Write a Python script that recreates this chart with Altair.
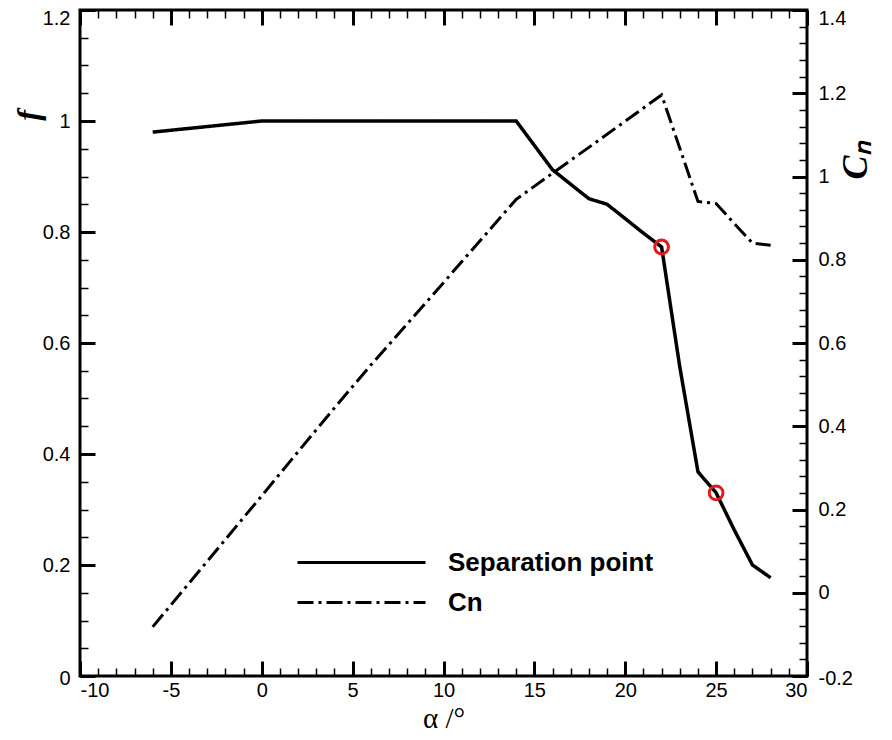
import altair as alt
import pandas as pd

# ---- data ----
alpha_f = [-6, 0, 14, 16, 18, 19, 20, 21, 22, 23, 24, 25, 26, 27, 28]
f_vals = [0.98, 1.0, 1.0, 0.912, 0.86, 0.85, 0.824, 0.798, 0.773, 0.557, 0.368, 0.33, 0.263, 0.2, 0.177]

alpha_cn = [-6, -4, -2, 0, 2, 4, 6, 8, 10, 12, 14, 16, 18, 20, 22, 24, 25, 26, 27, 28]
cn_vals = [-0.082, 0.023, 0.128, 0.233, 0.339, 0.444, 0.547, 0.646, 0.745, 0.845, 0.945,
           1.008, 1.07, 1.133, 1.196, 0.94, 0.935, 0.887, 0.84, 0.835]

mark_alpha = [22, 25]
mark_f = [0.773, 0.33]

series_names = ["Separation point", "Cn"]

x_major = [-10, -5, 0, 5, 10, 15, 20, 25, 30]
x_minor = list(range(-10, 31))
f_major = [0, 0.2, 0.4, 0.6, 0.8, 1, 1.2]
f_minor = [round(i * 0.05, 2) for i in range(25)]
cn_major = [-0.2, 0, 0.2, 0.4, 0.6, 0.8, 1, 1.2, 1.4]
cn_minor = [round(-0.2 + i * 0.04, 2) for i in range(41)]

W, H = 727, 666
FONT = "Liberation Sans"
SERIF = "Liberation Serif"
MAJ, MIN = 15, 8
MAJW, MINW = 3, 1.5

df_f = pd.DataFrame({"alpha": alpha_f, "val": f_vals, "series": series_names[0]})
df_cn = pd.DataFrame({"alpha": alpha_cn, "val": cn_vals, "series": series_names[1]})
df_m = pd.DataFrame({"alpha": mark_alpha, "val": mark_f})

xscale = alt.Scale(domain=[-10, 30], nice=False, zero=False)
fscale = alt.Scale(domain=[0, 1.2], nice=False, zero=False)
cnscale = alt.Scale(domain=[-0.2, 1.4], nice=False, zero=False)
dash_scale = alt.Scale(domain=series_names, range=[[1, 0], [16, 5, 3, 5]])

lab = "'' + datum.value"


def tick_axis(orient, offset, values, size, width):
    # inward-pointing ticks: axis moved across the plot with a negative offset
    return alt.Axis(orient=orient, offset=alt.ExprRef(str(offset)), values=values,
                    labels=False, domain=False, title=None, ticks=True, tickSize=size,
                    tickWidth=width, tickColor="black")


def top_baseline(top_value):
    return {"condition": {"test": f"datum.value == {top_value}", "value": "top"},
            "value": "middle"}


x_label_axis = alt.Axis(orient="bottom", values=x_major, ticks=False, domain=False,
                        labelExpr=lab, labelFont=FONT, labelFontSize=20, labelPadding=4,
                        title="α /°", titleFont=SERIF, titleFontSize=29,
                        titleFontWeight="normal", titleBaseline="alphabetic",
                        titleAlign="center", titleY=51, titleX=W / 2)
x_in_bottom_major = tick_axis("top", -H, x_major, MAJ, MAJW)
x_in_bottom_minor = tick_axis("top", -H, x_minor, MIN, MINW)
x_in_top_major = tick_axis("bottom", -H, x_major, MAJ, MAJW)
x_in_top_minor = tick_axis("bottom", -H, x_minor, MIN, MINW)

y_f_label = alt.Axis(orient="left", values=f_major, ticks=False, domain=False, labelExpr=lab,
                     labelFont=FONT, labelFontSize=20, labelPadding=10,
                     labelFlush=True, labelFlushOffset=2, labelBaseline=top_baseline(1.2),
                     title="f", titleFont=SERIF, titleFontStyle="italic", titleFontWeight="bold",
                     titleFontSize=32, titleAngle=270, titleX=-52, titleY=105,
                     titleAlign="center", titleBaseline="middle")
y_f_in_major = tick_axis("right", -W, f_major, MAJ, MAJW)
y_f_in_minor = tick_axis("right", -W, f_minor, MIN, MINW)

y_cn_label = alt.Axis(orient="right", values=cn_major, ticks=False, domain=False, labelExpr=lab,
                      labelFont=FONT, labelFontSize=20, labelPadding=11,
                      labelFlush=True, labelFlushOffset=2, labelBaseline=top_baseline(1.4),
                      title="Cₙ", titleFont=SERIF, titleFontStyle="italic", titleFontWeight="bold",
                      titleFontSize=36, titleAngle=270, titleX=48, titleY=150,
                      titleAlign="center", titleBaseline="middle")
y_cn_in_major = tick_axis("left", -W, cn_major, MAJ, MAJW)
y_cn_in_minor = tick_axis("left", -W, cn_minor, MIN, MINW)

# legend symbol: a long horizontal stroke drawn from a custom path
legend = alt.Legend(orient="none", legendX=264, legendY=535, title=None,
                    symbolType="M-4,0H4", symbolSize=1024, symbolStrokeWidth=3,
                    symbolStrokeColor="black", labelFont=FONT, labelFontSize=26,
                    labelFontWeight="bold", labelColor="black", labelOffset=69,
                    labelLimit=500, padding=0, rowPadding=9)

X = lambda ax: alt.X("alpha:Q", scale=xscale, axis=ax)

l_f = alt.Chart(df_f).mark_line(color="black", strokeWidth=3.5).encode(
    x=X(x_label_axis),
    y=alt.Y("val:Q", scale=fscale, axis=y_f_label),
    strokeDash=alt.StrokeDash("series:N", scale=dash_scale, legend=legend),
)
l_cn = alt.Chart(df_cn).mark_line(color="black", strokeWidth=3).encode(
    x=X(x_in_bottom_major),
    y=alt.Y("val:Q", scale=cnscale, axis=y_cn_label),
    strokeDash=alt.StrokeDash("series:N", scale=dash_scale, legend=legend),
)
l_m = alt.Chart(df_m).mark_point(shape="circle", filled=False, color="#e01b1b",
                                 strokeWidth=3, size=190, opacity=1).encode(
    x=X(x_in_bottom_minor),
    y=alt.Y("val:Q", scale=fscale, axis=y_f_in_major),
)
l_g1 = alt.Chart(df_f).mark_line(strokeOpacity=0).encode(
    x=X(x_in_top_major),
    y=alt.Y("val:Q", scale=fscale, axis=y_f_in_minor),
)
l_g2 = alt.Chart(df_cn).mark_line(strokeOpacity=0).encode(
    x=X(x_in_top_minor),
    y=alt.Y("val:Q", scale=cnscale, axis=y_cn_in_major),
)
l_g3 = alt.Chart(df_cn).mark_line(strokeOpacity=0).encode(
    x=X(None),
    y=alt.Y("val:Q", scale=cnscale, axis=y_cn_in_minor),
)

chart = alt.layer(l_f, l_cn, l_m, l_g1, l_g2, l_g3).resolve_scale(
    y="independent"
).resolve_axis(
    x="independent", y="independent"
).properties(
    width=W, height=H,
    autosize=alt.AutoSizeParams(type="none"),
    padding={"left": 72, "top": 2, "right": 77, "bottom": 56},
).configure_view(
    stroke="black", strokeWidth=3
).configure_axis(
    grid=False, labelColor="black", titleColor="black"
)

chart.save("out.html", embed_options={"renderer": "svg", "actions": False})
